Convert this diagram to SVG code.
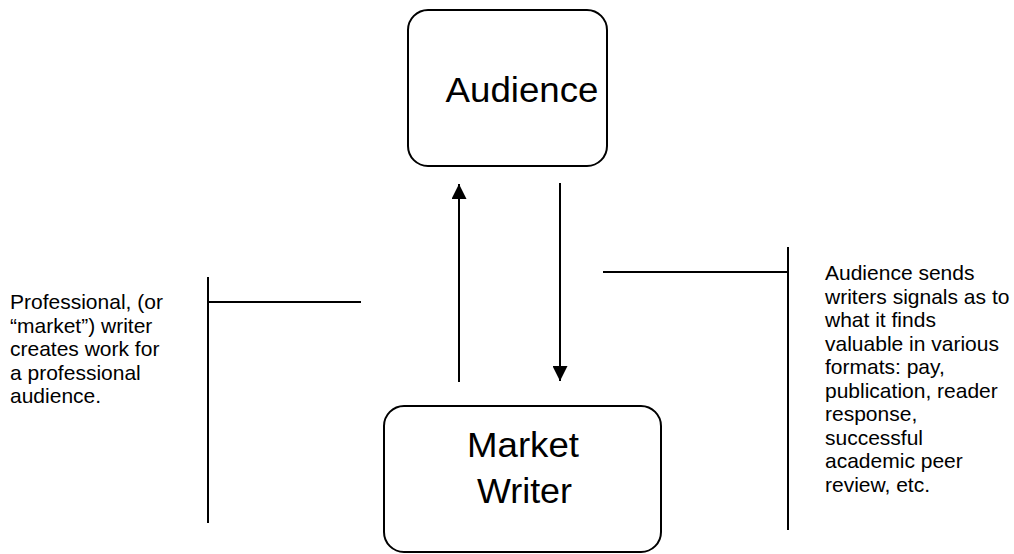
<svg xmlns="http://www.w3.org/2000/svg" width="1014" height="554" viewBox="0 0 1014 554">
  <style>
    .box { fill: #fff; stroke: #000; stroke-width: 2; }
    .big { font-family: "Liberation Sans", Arial, sans-serif; font-size: 35px; fill: #000; text-anchor: middle; }
    .note { font-family: "Liberation Sans", Arial, sans-serif; font-size: 21px; fill: #000; }
    .line { stroke: #000; stroke-width: 2; fill: none; }
  </style>
  <defs>
    <marker id="arrow" viewBox="0 0 10 10" refX="10" refY="5" markerWidth="15" markerHeight="15" markerUnits="userSpaceOnUse" orient="auto">
      <path d="M0,0 L10,5 L0,10 Z" fill="#000"/>
    </marker>
  </defs>
  <rect width="1014" height="554" fill="#fff"/>

  <g id="audience">
    <rect class="box" x="408" y="10" width="199" height="156" rx="20"/>
    <text class="big" x="522" y="102" textLength="153" lengthAdjust="spacingAndGlyphs">Audience</text>
  </g>

  <g id="market-writer">
    <rect class="box" x="384" y="406" width="277" height="146" rx="20"/>
    <text class="big" x="523" y="457" textLength="112" lengthAdjust="spacingAndGlyphs">Market</text>
    <text class="big" x="524.5" y="503" textLength="95" lengthAdjust="spacingAndGlyphs">Writer</text>
  </g>

  <g id="connectors">
    <line class="line" x1="459" y1="382" x2="459" y2="184" marker-end="url(#arrow)"/>
    <line class="line" x1="560" y1="183" x2="560" y2="381" marker-end="url(#arrow)"/>
  </g>

  <g id="note-left">
    <line class="line" x1="208" y1="277" x2="208" y2="523"/>
    <line class="line" x1="208" y1="302" x2="361" y2="302"/>
    <text class="note" x="10" y="309">Professional, (or</text>
    <text class="note" x="10" y="333">“market”) writer</text>
    <text class="note" x="10" y="356">creates work for</text>
    <text class="note" x="10" y="380">a professional</text>
    <text class="note" x="10" y="403">audience.</text>
  </g>

  <g id="note-right">
    <line class="line" x1="788" y1="247" x2="788" y2="530"/>
    <line class="line" x1="603" y1="272" x2="788" y2="272"/>
    <text class="note" x="825" y="280">Audience sends</text>
    <text class="note" x="825" y="303.5">writers signals as to</text>
    <text class="note" x="825" y="327">what it finds</text>
    <text class="note" x="825" y="350.5">valuable in various</text>
    <text class="note" x="825" y="374">formats: pay,</text>
    <text class="note" x="825" y="397.5">publication, reader</text>
    <text class="note" x="825" y="421">response,</text>
    <text class="note" x="825" y="444.5">successful</text>
    <text class="note" x="825" y="468">academic peer</text>
    <text class="note" x="825" y="491.5">review, etc.</text>
  </g>
</svg>
